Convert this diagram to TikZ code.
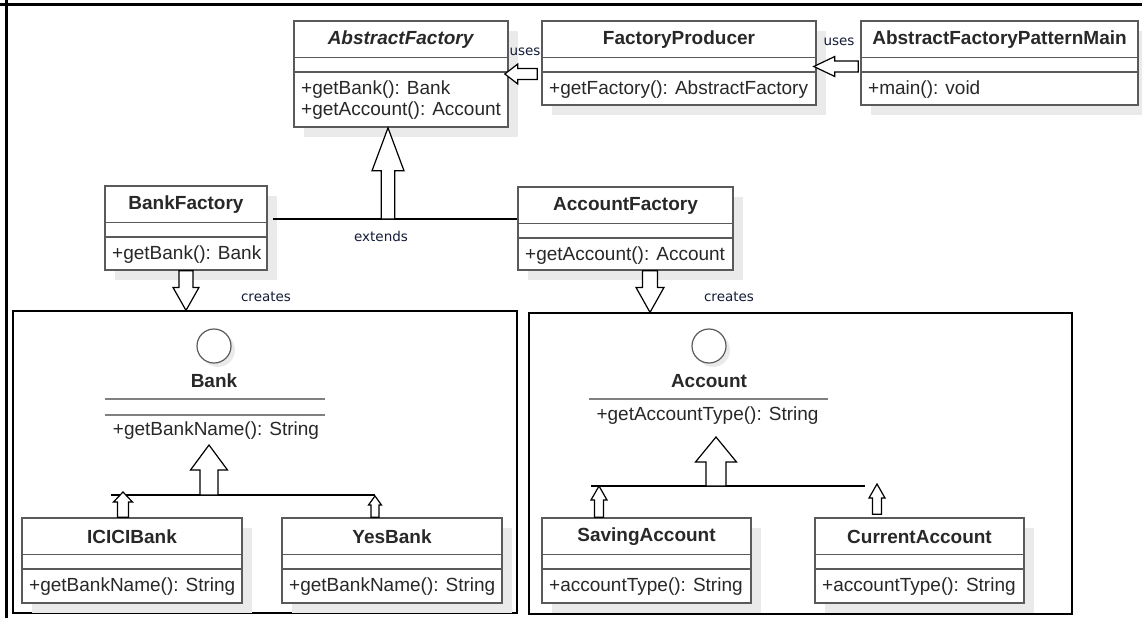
\documentclass[tikz,border=0pt]{standalone}
\usepackage{fontspec}
\setmainfont{Liberation Sans}
\newfontfamily\notefont{DejaVu Sans}
\usetikzlibrary{calc}

\definecolor{umlline}{RGB}{90,90,90}
\definecolor{umltext}{RGB}{40,40,40}
\definecolor{umlshadow}{RGB}{234,234,234}
\definecolor{notecolor}{RGB}{20,28,55}

\tikzset{
	classbox/.style={draw=umlline, line width=1.6pt, fill=white, inner sep=0pt},
	classtitle/.style={font=\fontsize{19}{22}\selectfont\bfseries, text=umltext, inner sep=0pt},
	method/.style={font=\fontsize{19}{22}\selectfont, text=umltext, inner sep=0pt, anchor=base west},
	sepline/.style={draw=umlline, line width=1.6pt},
	note/.style={font=\notefont\fontsize{13.5}{16}\selectfont, text=notecolor, inner sep=0pt},
	package/.style={draw, line width=1.2pt, inner sep=0pt},
	fat/.style n args={3}{% shaft half width, head half width, head length
		draw=black, fill=white, line width=1.2pt,
		to path={
			($(\tikztotarget)!#3pt!(\tikztostart)$) coordinate (fatbase)
			($(\tikztostart)!#1pt!90:(\tikztotarget)$)
			-- ($(fatbase)!#1pt!90:(\tikztotarget)$)
			-- ($(fatbase)!#2pt!90:(\tikztotarget)$)
			-- (\tikztotarget)
			-- ($(fatbase)!#2pt!-90:(\tikztotarget)$)
			-- ($(fatbase)!#1pt!-90:(\tikztotarget)$)
			-- ($(\tikztostart)!#1pt!-90:(\tikztotarget)$)
			-- cycle}}
}

% name, left, top, width, height, title, methods
\newcommand{\umlclass}[7]{
	\fill[umlshadow] (#2+10,#3+10) rectangle ++(#4,#5);
	\node[classbox, minimum width=#4pt, minimum height=#5pt] (#1) at (#2+#4/2,#3+#5/2) {};
	\node[classtitle] (#1-title) at (#2+#4/2,#3+19) {#6};
	\draw[sepline] (#2,#3+36.5) -- ++(#4,0);
	\draw[sepline] (#2,#3+51) -- ++(#4,0);
	\foreach \m [count=\i] in {#7}
		\node[method] (#1-m\i) at (#2+7,#3+52+21*\i) {\m};
}

\begin{document}
\begin{tikzpicture}[x=1pt, y=-1pt]
	\useasboundingbox (0,0) rectangle (1142,618);
	\draw[line width=3pt] (0,5) -- (1142,5);
	\draw[line width=3pt] (6,0) -- (6,618);

	% top row
	\umlclass{af}{294}{21}{214}{106}{\textit{AbstractFactory}}{+getBank(): Bank,+getAccount(): Account}
	\umlclass{fp}{542}{21}{274}{84}{FactoryProducer}{+getFactory(): AbstractFactory}
	\umlclass{main}{861}{21}{277}{84}{AbstractFactoryPatternMain}{+main(): void}

	\coordinate (fp-out) at ($(fp.west |- af.east)+(-4,0)$);
	\coordinate (af-in) at ($(af.east)+(-4,0)$);
	\draw[fat={5.5}{10}{13}] (fp-out) to (af-in);
	\node[note] (uses1) at (525,52) {uses};

	\coordinate (main-out) at ($(main.west)+(-2,3.5)$);
	\coordinate (fp-in) at ($(fp.east |- main-out)+(-3,0)$);
	\draw[fat={5.5}{10}{21}] (main-out) to (fp-in);
	\node[note] (uses2) at (839,42) {uses};

	% factories
	\umlclass{bf}{105}{186}{162}{84}{BankFactory}{+getBank(): Bank}
	\umlclass{acf}{518}{187}{215}{83}{AccountFactory}{+getAccount(): Account}

	\coordinate (ext) at (388,219);
	\coordinate (af-base) at (af.south -| ext);
	\draw[line width=1.2pt] ($(bf.east |- ext)+(5,0)$) -- (acf.west |- ext);
	\draw[fat={6.7}{16}{43}] (ext) to (af-base);
	\node[note] (extends) at (381,236) {extends};

	% packages
	\node[package, minimum width=504pt, minimum height=302pt] (bankpkg) at (265,462) {};
	\node[package, minimum width=543pt, minimum height=301pt] (acctpkg) at (800.5,463.5) {};

	\coordinate (bf-out) at (bf.south);
	\coordinate (bankpkg-in) at (bf.south |- bankpkg.north);
	\draw[fat={7}{13}{23}] (bf-out) to (bankpkg-in);
	\node[note] (creates1) at (266,297) {creates};

	\coordinate (acf-out) at ($(acf.south)+(24.5,0)$);
	\coordinate (acctpkg-in) at (acf-out |- acctpkg.north);
	\draw[fat={7.5}{14}{25}] (acf-out) to (acctpkg-in);
	\node[note] (creates2) at (729,297) {creates};

	% Bank interface
	\fill[umlshadow] (218,350) circle (17pt);
	\node[circle, draw=umlline, line width=1.2pt, fill=white, minimum size=34pt, inner sep=0pt] (bankicon) at (214,346) {};
	\node[classtitle] (bank) at (214,381) {Bank};
	\draw[sepline, draw=gray, line width=2pt] (105,399) -- (325,399);
	\draw[sepline, draw=gray, line width=2pt] (105,415) -- (325,415);
	\node[method, anchor=center] (bankop) at (216,431) {+getBankName(): String};

	\umlclass{icici}{22}{518}{220}{85}{ICICIBank}{+getBankName(): String}
	\umlclass{yes}{282}{518}{220}{85}{YesBank}{+getBankName(): String}

	\coordinate (bankjoin) at (209,495);
	\coordinate (banktip) at (209,445);
	\draw[line width=1.2pt] (111,495) -- (375,495);
	\draw[fat={9}{18.5}{25}] (bankjoin) to (banktip);
	\coordinate (icici-out) at ($(icici.north)+(-9,0)$);
	\coordinate (icici-tip) at (icici-out |- 0,492);
	\draw[fat={5.5}{9.5}{10}] (icici-out) to (icici-tip);
	\coordinate (yes-out) at ($(yes.north)+(-17,0)$);
	\coordinate (yes-tip) at (yes-out |- 0,496);
	\draw[fat={4}{6.5}{9}] (yes-out) to (yes-tip);

	% Account interface
	\fill[umlshadow] (713,350) circle (17pt);
	\node[circle, draw=umlline, line width=1.2pt, fill=white, minimum size=34pt, inner sep=0pt] (accticon) at (709,346) {};
	\node[classtitle] (account) at (709,381) {Account};
	\draw[sepline, draw=gray, line width=2pt] (589,399) -- (828,399);
	\node[method, anchor=center] (acctop) at (707.5,416) {+getAccountType(): String};

	\umlclass{saving}{542}{518}{209}{85}{SavingAccount}{+accountType(): String}
	\umlclass{current}{815}{518}{209}{85}{CurrentAccount}{+accountType(): String}

	\coordinate (acctjoin) at (716,486);
	\coordinate (accttip) at (716,437);
	\draw[line width=1.2pt] (591,486) -- (865,486);
	\draw[fat={10}{20.5}{25}] (acctjoin) to (accttip);
	\coordinate (saving-out) at ($(saving.north)+(-47.5,0)$);
	\coordinate (saving-tip) at (saving-out |- 0,486);
	\draw[fat={4.5}{8}{14}] (saving-out) to (saving-tip);
	\coordinate (current-out) at ($(current.north)+(-42.5,-3)$);
	\coordinate (current-tip) at (current-out |- 0,484);
	\draw[fat={4.5}{8}{14}] (current-out) to (current-tip);
\end{tikzpicture}
\end{document}
